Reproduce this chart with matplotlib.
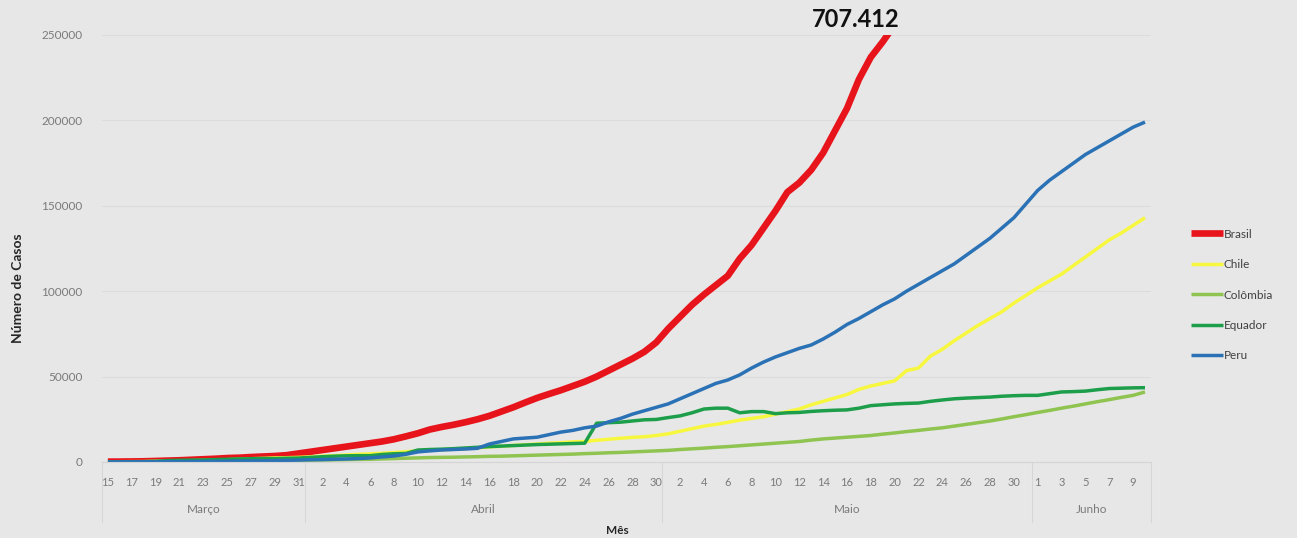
'''Casos acumulados de COVID-19 em países da América do Sul.'''

import numpy as np
import matplotlib.pyplot as plt
from matplotlib import transforms

# dias de 15/mar a 10/jun
dias = [15, 16, 17, 18, 19, 20, 21, 22, 23, 24, 25, 26, 27, 28, 29, 30, 31] + \
       list(range(1, 31)) + list(range(1, 32)) + list(range(1, 11))
meses = ['Março', 'Abril', 'Maio', 'Junho']
dias_por_mes = [17, 30, 31, 10]

brasil = [200, 230, 300, 400, 600, 800, 1000, 1300, 1600, 1900, 2300, 2500, 2900, 3200,
          3500, 4000, 5000, 6000, 7000, 8000, 9000, 10000, 11000, 12000, 13300, 15000,
          16800, 19000, 20500, 21800, 23300, 25000, 27000, 29500, 32000, 34800, 37500,
          39800, 42000, 44500, 47000, 50000, 53500, 57000, 60500, 64500, 70000, 78000,
          85000, 92000, 98000, 103500, 109000, 119000, 127000, 137000, 147000, 158000,
          163500, 171000, 181000, 194000, 207000, 224000, 237000, 246000, 256000]
chile = [75, 155, 200, 240, 430, 540, 630, 750, 920, 1140, 1300, 1600, 1900, 2100, 2400,
         2500, 2700, 3000, 3400, 3700, 4100, 4500, 4800, 5100, 5500, 6000, 6500, 6900,
         7200, 7500, 7900, 8300, 8800, 9200, 9700, 10100, 10500, 11000, 11300, 11800,
         12000, 12700, 13300, 13900, 14400, 14800, 15500, 16500, 18000, 19500, 21000,
         22000, 23200, 24500, 25500, 26500, 28000, 29500, 31000, 33500, 35500, 37500,
         39500, 42500, 44500, 46000, 47500, 53500, 55000, 62000, 66000, 71000, 75500,
         80000, 84000, 88000, 93000, 97500, 102000, 106000, 110000, 115000, 120000,
         125000, 130000, 134000, 138500, 143000]
colombia = [50, 60, 100, 150, 200, 230, 300, 380, 470, 500, 540, 610, 700, 800, 900, 900,
            1000, 1060, 1160, 1260, 1400, 1500, 1580, 1800, 2000, 2200, 2400, 2600, 2700,
            2800, 2950, 3100, 3300, 3400, 3600, 3800, 4000, 4200, 4400, 4600, 4900, 5100,
            5400, 5600, 5900, 6200, 6500, 6800, 7300, 7700, 8100, 8600, 9000, 9500, 10000,
            10500, 11000, 11500, 12000, 12800, 13500, 14000, 14500, 15000, 15500, 16300,
            17000, 17800, 18500, 19300, 20000, 21000, 22000, 23000, 24000, 25200, 26500,
            27700, 29000, 30200, 31500, 32700, 34000, 35300, 36500, 37800, 39000, 41000]
equador = [30, 60, 110, 200, 400, 800, 1000, 1100, 1200, 1400, 1600, 1800, 1900, 2000,
           2000, 2200, 2300, 2700, 3100, 3400, 3600, 3700, 3700, 4400, 4800, 5000, 7000,
           7300, 7500, 7800, 8200, 8600, 9000, 9300, 9600, 9900, 10200, 10400, 10600, 10800,
           11000, 22700, 23000, 23300, 24000, 24700, 24900, 26000, 27000, 28800, 31000,
           31500, 31500, 28800, 29500, 29500, 28300, 28800, 29000, 29600, 30000, 30300,
           30500, 31500, 33000, 33500, 34000, 34300, 34500, 35500, 36300, 37000, 37400,
           37700, 38000, 38500, 38800, 39000, 39000, 40000, 41000, 41200, 41500, 42300,
           43000, 43200, 43400, 43500]
peru = [40, 70, 90, 120, 150, 230, 260, 320, 390, 420, 500, 580, 630, 670, 850, 950, 1100,
        1300, 1400, 1600, 1750, 2000, 2400, 2950, 3500, 4500, 5900, 6500, 7000, 7300, 7600,
        8000, 10500, 12000, 13500, 14000, 14500, 16000, 17500, 18500, 20000, 21000, 23500,
        25500, 28000, 30000, 32000, 34000, 37000, 40000, 43000, 46000, 48000, 51000, 55000,
        58500, 61500, 64000, 66500, 68500, 72000, 76000, 80500, 84000, 88000, 92000, 95500,
        100000, 104000, 108000, 112000, 116000, 121000, 126000, 131000, 137000, 143000,
        151000, 159000, 165000, 170000, 175000, 180000, 184000, 188000, 192000, 196000,
        199000]

series = [('Brasil', brasil, '#e8141b', 4.8),
          ('Chile', chile, '#f7f740', 2.5),
          ('Colômbia', colombia, '#8fc450', 2.5),
          ('Equador', equador, '#1d9e4a', 2.5),
          ('Peru', peru, '#2a72b5', 2.5)]

bg = '#e7e7e7'
plt.rcParams['font.family'] = ['Lato', 'DejaVu Sans']

fig = plt.figure(figsize=(12.97, 5.38), dpi=100, facecolor=bg)
ax = fig.add_axes([0.0786, 0.1413, 0.8088, 0.7937], facecolor=bg)

for nome, valores, cor, lw in series:
    ax.plot(np.arange(len(valores)), valores, color=cor, lw=lw, label=nome,
            solid_capstyle='butt', solid_joinstyle='round')

ax.set_xlim(-0.5, len(dias) - 0.5)
ax.set_ylim(0, 250000)
ax.set_yticks(np.arange(0, 250001, 50000))
ax.yaxis.grid(True, color='#dcdcdc', lw=0.8)
ax.set_axisbelow(True)
for s in ['top', 'right', 'left']:
    ax.spines[s].set_visible(False)
ax.spines['bottom'].set_color('#d4d4d4')

pos = np.arange(0, len(dias), 2)
ax.set_xticks(pos)
ax.set_xticklabels([str(dias[i]) for i in pos])
ax.tick_params(axis='both', length=0, colors='#7a7a7a')
ax.tick_params(axis='x', pad=11, labelsize=8)
ax.tick_params(axis='y', pad=14, labelsize=8.5)

# nível dos meses
trans = transforms.blended_transform_factory(ax.transData, ax.transAxes)
inicio = -0.5
for mes, n in zip(meses, dias_por_mes):
    ax.plot([inicio, inicio], [0, -0.14], color='#d6d6d6', lw=0.8,
            transform=trans, clip_on=False)
    ax.text(inicio + n / 2, -0.112, mes, transform=trans, ha='center', va='center',
            fontsize=8.5, color='#7a7a7a')
    inicio += n
ax.plot([inicio, inicio], [0, -0.14], color='#d6d6d6', lw=0.8,
        transform=trans, clip_on=False)

fig.text(18 / 1297, 1 - 288 / 538, 'Número de Casos', rotation=90, ha='center',
         va='center', fontsize=10, fontweight='bold', color='#262626')
fig.text(617 / 1297, 1 - 530 / 538, 'Mês', ha='center', va='center',
         fontsize=8.5, fontweight='bold', color='#262626')

ax.text(62.75, 258800, '707.412', ha='center', va='center', fontsize=17,
        fontweight='bold', color='#111111', clip_on=False)

leg = ax.legend(loc='center left', bbox_to_anchor=(1180 / 1297, 1 - 295 / 538),
                bbox_transform=fig.transFigure, frameon=False, fontsize=8.5,
                handlelength=2.7, handletextpad=0.1, labelspacing=1.65)
for t in leg.get_texts():
    t.set_color('#404040')

fig.savefig('out.png', dpi=100, facecolor=bg)
